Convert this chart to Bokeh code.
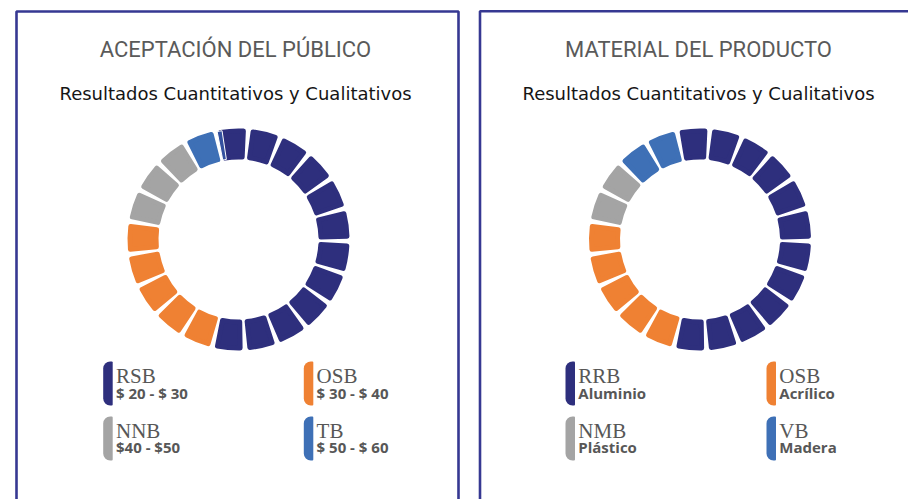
import math
from bokeh.plotting import figure
from bokeh.models import Range1d
from bokeh.core.properties import value
from bokeh.embed import file_html
from bokeh.resources import INLINE

# ---------------- data ----------------
titles = ["ACEPTACIÓN DEL PÚBLICO", "MATERIAL DEL PRODUCTO"]
subtitle = "Resultados Cuantitativos y Cualitativos"

left_codes = ["RSB", "OSB", "NNB", "TB"]
left_labels = ["$ 20 - $ 30", "$ 30 - $ 40", "$40 - $50", "$ 50 - $ 60"]
left_counts = [12, 5, 3, 1]

right_codes = ["RRB", "OSB", "NMB", "VB"]
right_labels = ["Aluminio", "Acrílico", "Plástico", "Madera"]
right_counts = [12, 5, 2, 2]

colors = ["#2e2f7d", "#ef8133", "#a4a4a4", "#3e70b6"]

# ---------------- layout / style ----------------
W, H = 908, 499
BORDER = "#363892"
TITLE_COLOR = "#5a5a5a"
LEG_COLOR = "#575757"

p = figure(width=W, height=H, x_range=Range1d(0, W), y_range=Range1d(0, H),
           output_backend="svg", toolbar_location=None, min_border=0)
p.axis.visible = False
p.grid.visible = False
p.outline_line_color = None
p.background_fill_color = "white"
p.border_fill_color = "white"


def Y(py):
    return H - py


def TY(py, fs):
    # baseline position corrected for the renderer's baseline offset
    return H - py + 0.4 * fs


# panel frames
p.quad(left=[16, 479.5], right=[458, 1000], top=[Y(11), Y(10.7)], bottom=[Y(700), Y(700)],
       fill_color=None, line_color=BORDER, line_width=2.6)

panels = [
    dict(cx=238, cy=239, tx=235, counts=left_counts, codes=left_codes, labels=left_labels,
         bars_x=[102.7, 303.3]),
    dict(cx=699.5, cy=239, tx=698, counts=right_counts, codes=right_codes, labels=right_labels,
         bars_x=[565, 766]),
]

R_OUT, R_IN, RC, GAP, OFFSET = 111, 80, 2.4, 3.6, -12.0
FS_T, FS_S, FS_C, FS_V = 22, 18, 21, 15

for i, pan in enumerate(panels):
    # titles
    p.text(x=[pan["tx"]], y=[TY(58, FS_T)], text=[titles[i]], text_align="center",
           text_baseline="alphabetic", text_font=value("Roboto"),
           text_font_size=value(f"{FS_T}px"), text_color=TITLE_COLOR)
    p.text(x=[pan["tx"]], y=[TY(100, FS_S)], text=[subtitle], text_align="center",
           text_baseline="alphabetic", text_font=value("DejaVu Sans"),
           text_font_size=value(f"{FS_S}px"), text_color="#151515")

    # donut of unit segments
    seq = []
    for c, n in zip(colors, pan["counts"]):
        seq += [c] * n
    step = 360.0 / len(seq)
    delta = math.degrees((GAP / 2 + RC) / ((R_OUT + R_IN) / 2))
    starts, ends = [], []
    for k in range(len(seq)):
        th0 = OFFSET + k * step + delta
        th1 = OFFSET + (k + 1) * step - delta
        starts.append(math.radians(90 - th1))
        ends.append(math.radians(90 - th0))
    p.annular_wedge(x=pan["cx"], y=Y(pan["cy"]), inner_radius=R_IN + RC, outer_radius=R_OUT - RC,
                    inner_radius_units="screen", outer_radius_units="screen",
                    start_angle=starts, end_angle=ends, fill_color=seq, line_color=seq,
                    line_width=2 * RC, line_join="round")

    if i == 0:
        # thin sliver seen between the blue and the first navy piece
        p.annular_wedge(x=pan["cx"], y=Y(pan["cy"]), inner_radius=R_IN + 1, outer_radius=R_OUT - 1,
                        inner_radius_units="screen", outer_radius_units="screen",
                        start_angle=math.radians(90 + 8.6), end_angle=math.radians(90 + 11.2),
                        fill_color="#34519f", line_color="white", line_width=1)

    # legend
    bx, sx, sy, vy, btop, bbot = [], [], [], [], [], []
    for j in range(4):
        col, row = j % 2, j // 2
        x0 = pan["bars_x"][col]
        bx.append(x0)
        btop.append(Y([361, 416][row]))
        bbot.append(Y([405, 460][row]))
        sx.append(x0 + 12.8)
        sy.append(TY([384, 439][row], FS_C))
        vy.append(TY([398.5, 452.5][row], FS_V))
    p.quad(left=bx, right=[b + 9.5 for b in bx], top=btop, bottom=bbot,
           fill_color=colors, line_color=None, border_radius=(7, 1, 1, 7))
    p.text(x=sx, y=sy, text=pan["codes"], text_baseline="alphabetic",
           text_font=value("Liberation Serif"), text_font_size=value(f"{FS_C}px"),
           text_color=LEG_COLOR)
    p.text(x=sx, y=vy, text=pan["labels"], text_baseline="alphabetic",
           text_font=value("Open Sans"), text_font_style="bold",
           text_font_size=value(f"{FS_V}px"), text_color=LEG_COLOR)

open("out.html", "w").write(file_html(p, INLINE))
